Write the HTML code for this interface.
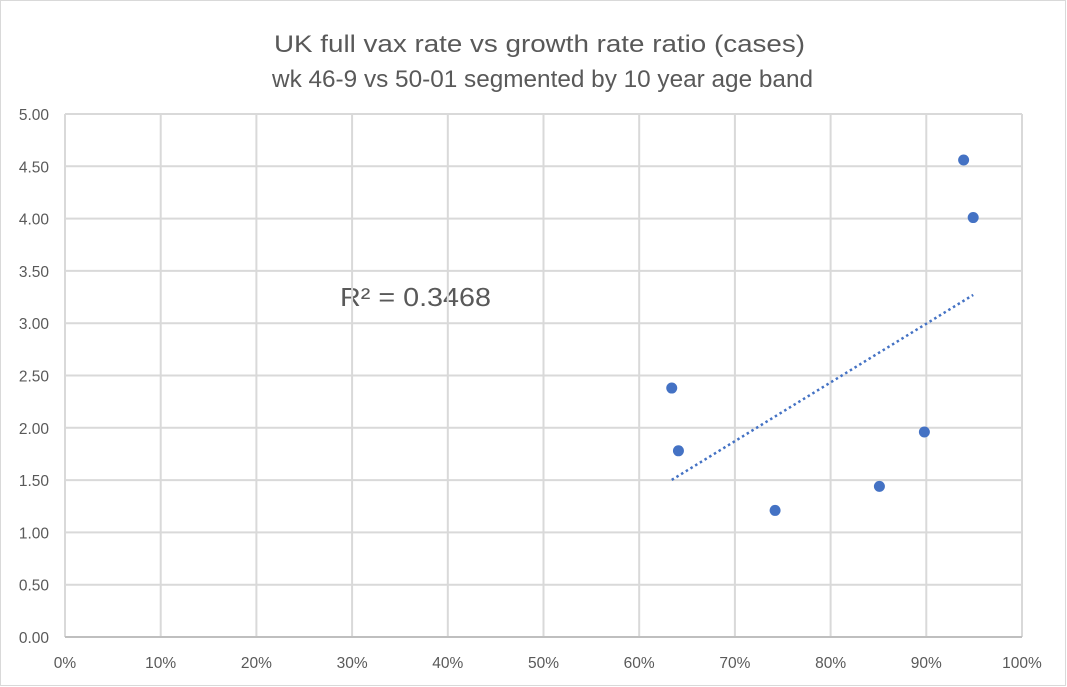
<!DOCTYPE html>
<html><head><meta charset="utf-8"><style>
body{margin:0;background:#fff;}
svg{display:block;font-family:"Liberation Sans",sans-serif;}
</style></head><body>
<svg id="c" width="1067" height="687">
<rect x="0.5" y="0.5" width="1065" height="685" fill="#fff" stroke="#d9d9d9"/>
<text x="274" y="52" textLength="531" lengthAdjust="spacingAndGlyphs" font-size="24" fill="#595959">UK full vax rate vs growth rate ratio (cases)</text>
<text x="272" y="87" textLength="541" lengthAdjust="spacingAndGlyphs" font-size="24" fill="#595959">wk 46-9 vs 50-01 segmented by 10 year age band</text>
<text x="340" y="306" textLength="151" lengthAdjust="spacingAndGlyphs" font-size="26" fill="#595959">R² = 0.3468</text>
<g id="grid"></g><g id="axes"></g><g id="marks"></g>
</svg>
<script>
const xVals=[0.634,0.641,0.742,0.851,0.898,0.939,0.949];
const yVals=[2.38,1.78,1.21,1.44,1.96,4.56,4.01];
const xTicks=[0,0.1,0.2,0.3,0.4,0.5,0.6,0.7,0.8,0.9,1.0];
const yTicks=[0,0.5,1,1.5,2,2.5,3,3.5,4,4.5,5];
const L=65,R=1022,T=114,B=637;
const sx=v=>L+v*(R-L), sy=v=>B-v/5*(B-T);
const NS="http://www.w3.org/2000/svg";
function mk(tag,at,parent,txt){const e=document.createElementNS(NS,tag);for(const k in at)e.setAttribute(k,at[k]);if(txt!==undefined)e.textContent=txt;document.getElementById(parent).appendChild(e);return e;}
xTicks.forEach(t=>{
 const l=mk('line',{x1:sx(t),x2:sx(t),y1:T,y2:B,stroke:'#d9d9d9','stroke-width':2},'grid');
 
 
 const tx=mk('text',{x:sx(t),y:668,'text-anchor':'middle','font-size':15.5,fill:'#595959'},'axes',Math.round(t*100)+'%');
 
 
});
yTicks.forEach(t=>{
 const l=mk('line',{x1:L,x2:R,y1:sy(t),y2:sy(t),stroke:'#d9d9d9','stroke-width':2},'grid');
 
 
 const tx=mk('text',{x:49,y:sy(t)+6,'text-anchor':'end','font-size':15.5,fill:'#595959'},'axes',t.toFixed(2));
 
 
});
const ax=mk('line',{x1:L,x2:R,y1:B,y2:B,stroke:'#bfbfbf','stroke-width':2},'axes');


const n=xVals.length,mx=xVals.reduce((a,b)=>a+b)/n,my=yVals.reduce((a,b)=>a+b)/n;
let sxy=0,sxx=0;xVals.forEach((x,i)=>{sxy+=(x-mx)*(yVals[i]-my);sxx+=(x-mx)**2;});
const m=sxy/sxx,b=my-m*mx,x0=Math.min(...xVals),x1=Math.max(...xVals);
const tl=mk('line',{x1:sx(x0),y1:sy(m*x0+b),x2:sx(x1),y2:sy(m*x1+b),stroke:'#4472c4','stroke-width':2.5,'stroke-dasharray':'2.5 3'},'marks');


xVals.forEach((x,i)=>{
 const c=mk('circle',{cx:sx(x),cy:sy(yVals[i]),r:5.5,fill:'#4472c4'},'marks');
 
 
});
</script>
</body></html>
